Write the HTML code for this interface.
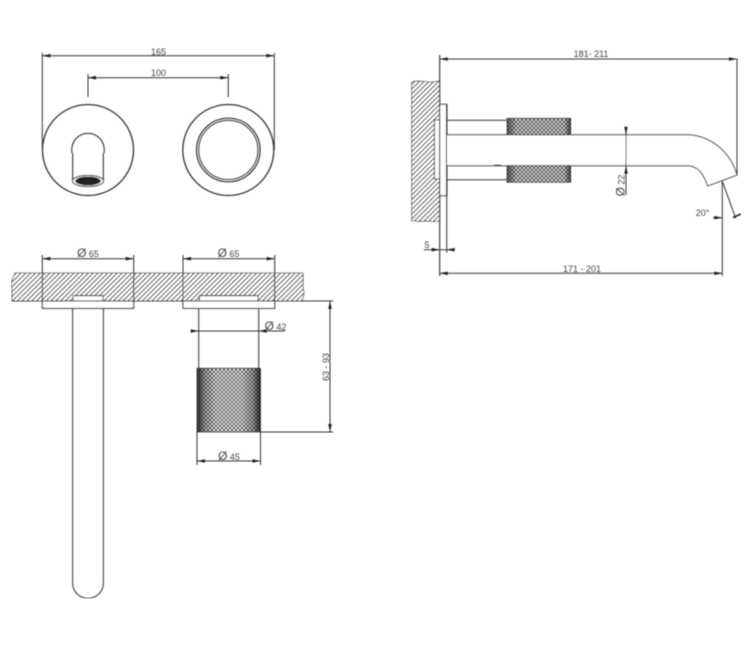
<!DOCTYPE html>
<html><head><meta charset="utf-8">
<style>html,body{margin:0;padding:0;background:#fff;width:750px;height:662px;overflow:hidden}
svg{display:block}
text{font-family:"Liberation Sans",sans-serif;font-size:9px;fill:#444;text-anchor:middle}
.d{font-size:12px}
</style></head><body>
<svg width="750" height="662" viewBox="0 0 750 662" xmlns="http://www.w3.org/2000/svg">
<defs>
<pattern id="hatch" width="3.4" height="3.4" patternUnits="userSpaceOnUse" patternTransform="rotate(45)">
<rect width="3.4" height="3.4" fill="#fff"/><rect width="1.1" height="3.4" fill="#555"/>
</pattern>
<pattern id="kn" width="4" height="4" patternUnits="userSpaceOnUse">
<rect width="4" height="4" fill="#222"/>
<circle cx="0" cy="0" r="1.15" fill="#f2f2f2"/><circle cx="4" cy="0" r="1.15" fill="#f2f2f2"/><circle cx="0" cy="4" r="1.15" fill="#f2f2f2"/><circle cx="4" cy="4" r="1.15" fill="#f2f2f2"/><circle cx="2" cy="2" r="1.15" fill="#f2f2f2"/>
</pattern>
<linearGradient id="edge" x1="0" x2="1" y1="0" y2="0">
<stop offset="0" stop-color="#111" stop-opacity=".85"/><stop offset=".12" stop-color="#111" stop-opacity=".3"/><stop offset=".3" stop-color="#111" stop-opacity="0"/><stop offset=".7" stop-color="#111" stop-opacity="0"/><stop offset=".88" stop-color="#111" stop-opacity=".3"/><stop offset="1" stop-color="#111" stop-opacity=".85"/>
</linearGradient>
<linearGradient id="edge2" x1="0" x2="1" y1="0" y2="0">
<stop offset="0" stop-color="#111" stop-opacity=".6"/><stop offset=".15" stop-color="#111" stop-opacity=".1"/><stop offset=".9" stop-color="#111" stop-opacity=".1"/><stop offset="1" stop-color="#111" stop-opacity=".7"/>
</linearGradient>
<filter id="b" x="0" y="0" width="100%" height="100%"><feGaussianBlur stdDeviation="0.4"/></filter>
<path id="a" d="M0 0L8 -1.8V1.8Z" fill="#222" stroke="none"/>
</defs>
<g filter="url(#b)" fill="none" stroke="#444" stroke-width="1">

<!-- Top left view -->
<g stroke="#333">
<path d="M42.3 53V150M274.3 53V150M88 74V97M228.3 74V97"/>
<path d="M42.3 55.7H274.3M88 77.7H228.3"/>
<circle cx="88" cy="150" r="45.5" stroke-width="1.3"/>
<circle cx="228.3" cy="150" r="45.5" stroke-width="1.3"/>
<circle cx="228.3" cy="150" r="31.8" stroke-width="1.2"/>
<circle cx="228.3" cy="150" r="29.6" stroke-width="1"/>
<path d="M71.8 153V149.5A16.2 16.2 0 0 1 104.2 149.5V153M72.7 153V181M103.3 153V181" stroke-width="1.1"/>
<ellipse cx="88" cy="181" rx="15.5" ry="5.5" fill="#fff"/>
<ellipse cx="88" cy="181" rx="12.8" ry="4.4" fill="#222" stroke="none"/>
</g>
<use href="#a" x="42.3" y="55.7"/><use href="#a" transform="translate(274.3 55.7) rotate(180)"/>
<use href="#a" x="88" y="77.7"/><use href="#a" transform="translate(228.3 77.7) rotate(180)"/>

<!-- Bottom-left wall section -->
<path d="M15 273H303C304 280 302 285 304 292C304.5 296 302 299 302 301H12C11 296 13 290 11.5 285C11 280 14 277 15 273Z" fill="url(#hatch)" stroke="#555" stroke-width=".8"/>
<g stroke="#333">
<path d="M12 301H302" stroke-width="1.1"/>
<rect x="73" y="295.7" width="30" height="5.3" fill="#fff"/>
<rect x="199.3" y="295.7" width="58.7" height="5.3" fill="#fff"/>
<rect x="42.3" y="301" width="91.4" height="7.4" fill="#fff" stroke-width="1.1"/>
<rect x="183" y="301" width="91.7" height="7.4" fill="#fff" stroke-width="1.1"/>
<path d="M42.3 255V301M133.7 255V301M183 255V301M274.7 255V301"/>
<path d="M42.3 258.7H133.7M183 258.7H274.7"/>
<path d="M72.6 308.4V583A15.4 15.4 0 0 0 103.4 583V308.4" stroke-width="1"/>
<path d="M198.7 308.4V368.3M258.7 308.4V368.3"/>
<path d="M193 331H285" />
<path d="M302 301H333M260.5 432H333M330 301V432M197 432V465M260.5 432V465M197 461H260.5"/>
</g>
<rect x="197" y="368.3" width="63.5" height="63.7" fill="url(#kn)" stroke="none"/>
<rect x="197" y="368.3" width="63.5" height="63.7" fill="url(#edge)" stroke="#333" stroke-width=".8"/>
<use href="#a" x="42.3" y="258.7"/><use href="#a" transform="translate(133.7 258.7) rotate(180)"/>
<use href="#a" x="183" y="258.7"/><use href="#a" transform="translate(274.7 258.7) rotate(180)"/>
<use href="#a" transform="translate(198.7 331) rotate(180)"/><use href="#a" x="258.7" y="331"/>
<use href="#a" transform="translate(330 301) rotate(90)"/><use href="#a" transform="translate(330 432) rotate(-90)"/>
<use href="#a" x="197" y="461"/><use href="#a" transform="translate(260.5 461) rotate(180)"/>

<!-- Right side view -->
<path d="M411.7 82C418 79.5 425 82.5 432 82C435 82 437 81 439.7 81V221C433 222.5 427 220 420 221.5C417 222 414 220 411.7 221Z" fill="url(#hatch)" stroke="#555" stroke-width=".8"/>
<g stroke="#333">
<rect x="434.5" y="120" width="5.5" height="59" fill="#fff"/>
<path d="M439.7 55V276" stroke-width="1.1"/>
<rect x="439.7" y="104.3" width="7" height="91.4" fill="#fff" stroke-width="1"/>
<path d="M446.7 104.3V195.7" stroke-width="1.5"/>
<path d="M439.7 59H737V175M446.7 195.7V252.7"/>
<path d="M447 120.3H507M447 179.7H507"/>
<path d="M447 134.7H688C713 136 731 154 737 175L707.7 186C703 172 697 166 688 165.7H447" fill="#fff" stroke-width="1"/>
<path d="M439.7 273.3H722.3M722.3 181V276M722.3 181L735.7 218.3"/>
<path d="M733 217.5L741 214" stroke-width="1.6" stroke="#222"/>
<path d="M626 128V195" stroke-width="1"/>
<path d="M433 249.7H453M424 249.7H433"/>
<path d="M494 165H501" stroke="#444"/>
<path d="M713 217.7H722.3"/>
</g>
<rect x="507" y="118.3" width="63.7" height="16.4" fill="url(#kn)" stroke="none"/>
<rect x="507" y="165.7" width="63.7" height="16.6" fill="url(#kn)" stroke="none"/>
<rect x="507" y="118.3" width="63.7" height="16.4" fill="url(#edge2)" stroke="#333" stroke-width=".7"/>
<rect x="507" y="165.7" width="63.7" height="16.6" fill="url(#edge2)" stroke="#333" stroke-width=".7"/>
<use href="#a" x="439.7" y="59"/><use href="#a" transform="translate(737 59) rotate(180)"/>
<use href="#a" x="439.7" y="273.3"/><use href="#a" transform="translate(722.3 273.3) rotate(180)"/>
<use href="#a" transform="translate(626 134.7) rotate(-90)"/><use href="#a" transform="translate(626 165.7) rotate(90)"/>
<use href="#a" transform="translate(439.7 249.7) rotate(180)"/><use href="#a" x="446.7" y="249.7"/>
<use href="#a" transform="translate(722.3 217.7) rotate(180)"/>

<g stroke="none">
<text x="158.5" y="55" stroke="none">165</text>
<text x="158.5" y="76" stroke="none">100</text>
<text x="88" y="257" stroke="none"><tspan class="d">Ø</tspan> 65</text>
<text x="228.5" y="257" stroke="none"><tspan class="d">Ø</tspan> 65</text>
<text x="275.5" y="330" stroke="none"><tspan class="d">Ø</tspan> 42</text>
<text x="229" y="460" stroke="none"><tspan class="d">Ø</tspan> 45</text>
<text transform="translate(329 367) rotate(-90)" stroke="none">63 - 93</text>
<text x="591" y="57" stroke="none">181- 211</text>
<text x="582" y="272" stroke="none">171 - 201</text>
<text x="427" y="248" stroke="none">5</text>
<text x="702.5" y="216" stroke="none">20°</text>
<text transform="translate(624.5 185.5) rotate(-90)" stroke="none"><tspan class="d">Ø</tspan> 22</text>
</g>
</g>
</svg>
</body></html>
